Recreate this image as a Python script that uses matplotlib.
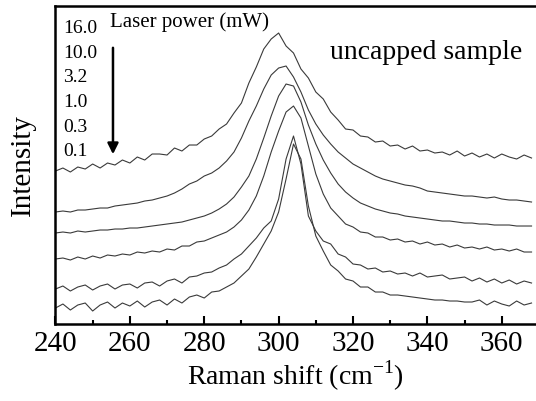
import numpy as np
import matplotlib.pyplot as plt

plt.rcParams['font.family'] = ['Liberation Serif', 'DejaVu Serif']
plt.rcParams['mathtext.fontset'] = 'custom'
plt.rcParams['mathtext.rm'] = 'Liberation Serif'

# Raman shift grid (cm^-1), one point every 2 cm^-1
shift = np.arange(240, 370, 2)

# intensities (arb. units, already offset for stacking), top curve first
p16_0 = [153, 156, 152, 157, 155, 160, 156, 161, 159, 164, 161, 167, 164, 170, 170, 169,
         176, 173, 179, 179, 185, 188, 195, 200, 211, 221, 241, 257, 275, 285, 291, 278,
         271, 255, 246, 232, 225, 212, 204, 195, 194, 188, 187, 182, 183, 178, 179, 175,
         178, 173, 174, 171, 172, 169, 173, 168, 171, 167, 170, 166, 170, 167, 165, 169, 166]
p10_0 = [112, 113, 112, 114, 114, 115, 116, 116, 118, 119, 120, 121, 123, 124, 126, 128,
         131, 135, 140, 143, 148, 151, 156, 163, 172, 186, 203, 218, 235, 249, 256, 258,
         247, 232, 214, 200, 189, 180, 172, 166, 160, 156, 152, 148, 145, 143, 141, 139,
         138, 136, 133, 132, 131, 130, 129, 128, 128, 127, 126, 127, 125, 124, 124, 123, 122]
p3_2 = [91, 92, 91, 93, 92, 93, 94, 94, 95, 95, 96, 96, 97, 98, 99, 100,
        101, 102, 104, 106, 108, 111, 115, 120, 127, 137, 148, 165, 186, 208, 228, 240,
        238, 222, 199, 180, 164, 151, 140, 132, 126, 121, 118, 115, 113, 111, 110, 108,
        107, 106, 105, 104, 103, 103, 102, 101, 101, 100, 100, 99, 99, 99, 98, 98, 98]
p1_0 = [65, 66, 64, 67, 65, 68, 66, 69, 68, 70, 69, 72, 71, 73, 72, 75,
        74, 78, 78, 82, 83, 86, 89, 92, 97, 104, 114, 128, 148, 172, 193, 212,
        218, 206, 178, 150, 130, 116, 108, 100, 97, 92, 91, 87, 87, 84, 85, 82,
        83, 80, 82, 79, 80, 77, 79, 76, 77, 75, 77, 74, 75, 73, 75, 72, 72]
p0_3 = [35, 38, 33, 37, 39, 34, 38, 40, 35, 39, 40, 36, 41, 42, 38, 43,
        45, 41, 47, 48, 51, 52, 56, 59, 65, 70, 78, 86, 96, 103, 125, 165,
        188, 160, 108, 93, 83, 80, 70, 67, 60, 59, 55, 56, 52, 53, 50, 51,
        48, 51, 47, 48, 49, 45, 46, 47, 43, 46, 42, 45, 41, 44, 40, 43, 41]
p0_1 = [16, 20, 14, 19, 21, 13, 19, 22, 16, 21, 18, 23, 17, 22, 24, 19,
        25, 21, 27, 29, 26, 32, 33, 37, 41, 48, 55, 67, 80, 93, 112, 145,
        180, 165, 118, 88, 73, 59, 53, 45, 43, 37, 37, 32, 32, 29, 29, 28,
        27, 26, 25, 24, 24, 23, 23, 22, 22, 24, 19, 23, 20, 18, 23, 19, 21]

spectra = [p16_0, p10_0, p3_2, p1_0, p0_3, p0_1]
power_labels = ['16.0', '10.0', '3.2', '1.0', '0.3', '0.1']

fig = plt.figure(figsize=(5.36, 4.01), dpi=100)
ax = fig.add_axes([0.1035, 0.192, 0.8965, 0.793])

for y in spectra:
    ax.plot(shift, y, color='#3a3a3a', lw=0.8)

ax.set_xlim(240, 369.2)
ax.set_ylim(0, 318)
ax.set_xticks([240, 260, 280, 300, 320, 340, 360])
ax.set_xticks(np.arange(250, 370, 20), minor=True)
ax.set_yticks([])
ax.tick_params(axis='x', which='major', direction='in', length=6, width=1.5,
               labelsize=21, pad=5)
ax.tick_params(axis='x', which='minor', direction='in', length=3, width=1.5)
for side in ['left', 'bottom', 'top']:
    ax.spines[side].set_linewidth(1.8)
ax.spines['right'].set_visible(False)

ax.set_xlabel('Raman shift (cm$^{\\mathregular{-1}}$)', fontsize=20, labelpad=1)
ax.set_ylabel('Intensity', fontsize=21, labelpad=14)

# legend-like annotations, positions in axes fraction
def fx(px):
    return (px - 55.5) / 480.5

def fy(py):
    return (324 - py) / 318

label_rows = [28, 53, 77, 102, 127, 151]
for lab, py in zip(power_labels, label_rows):
    ax.text(fx(63), fy(py), lab, transform=ax.transAxes, fontsize=14,
            va='center', ha='left')
ax.text(fx(110), fy(22), 'Laser power (mW)', transform=ax.transAxes,
        fontsize=15, va='center', ha='left')
ax.text(fx(330), fy(52), 'uncapped sample', transform=ax.transAxes,
        fontsize=20, va='center', ha='left')
ax.annotate('', xy=(fx(113), fy(157)), xytext=(fx(113), fy(45)),
            xycoords='axes fraction', textcoords='axes fraction',
            arrowprops=dict(arrowstyle='-|>', color='black', lw=1.8,
                            mutation_scale=16))

fig.savefig('out.png', dpi=100)
